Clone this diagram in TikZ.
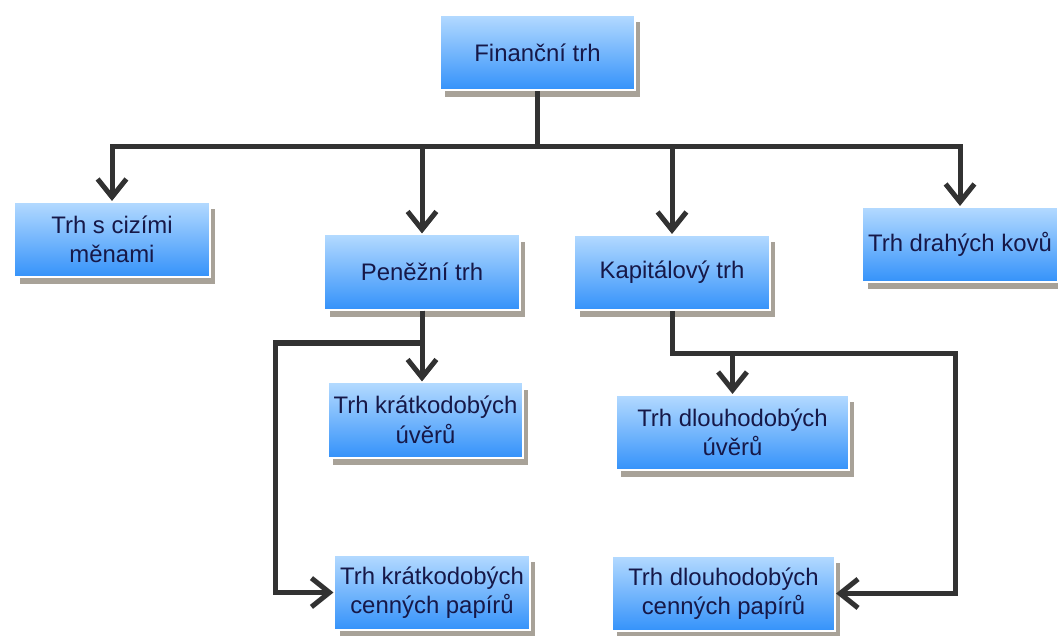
\documentclass[tikz,border=0pt]{standalone}
\usepackage{fontspec}
\setmainfont{Liberation Sans}
\usepackage{tikz}
\usetikzlibrary{arrows.meta, shadows}
\definecolor{boxtop}{RGB}{180,218,255}
\definecolor{boxbottom}{RGB}{52,146,250}
\definecolor{boxtext}{RGB}{22,24,72}
\definecolor{boxshadow}{RGB}{168,162,152}
\definecolor{linegray}{RGB}{50,50,50}
\tikzstyle{box} = [rectangle, minimum width=4.875cm, minimum height=1.875cm, align=center, draw=white, line width=0.05cm, top color=boxtop, bottom color=boxbottom, text=boxtext, font=\fontsize{17}{21}\selectfont, drop shadow={shadow xshift=0.13cm, shadow yshift=-0.18cm, fill=boxshadow, opacity=1}]
\tikzstyle{arrow} = [line width=0.125cm, draw=linegray, -{Straight Barb[length=0.45cm, width=0.72cm]}]

\begin{document}
\begin{tikzpicture}[x=0.025cm, y=-0.025cm]
        \useasboundingbox (0,0) rectangle (1058,636);
        \node (fin) [box] at (537.5,52.5) {Finanční trh};
        \node (ciz) [box] at (112,239.5) {Trh s cizími\\měnami};
        \node (pen) [box] at (422,272) {Peněžní trh};
        \node (kap) [box] at (672,272.5) {Kapitálový trh};
        \node (kov) [box] at (960,244.5) {Trh drahých kovů};
        \node (kuv) [box] at (425.5,420) {Trh krátkodobých\\úvěrů};
        \node (duv) [box, minimum width=5.825cm] at (732.5,432.5) {Trh dlouhodobých\\úvěrů};
        \node (kcp) [box] at (432,592.5) {Trh krátkodobých\\cenných papírů};
        \node (dcp) [box, minimum width=5.575cm] at (723.5,593.5) {Trh dlouhodobých\\cenných papírů};

        \coordinate (bus) at (537.5,147);
        \coordinate (pturn) at (275,343);
        \coordinate (kturn) at (955,353);

        \foreach \n in {ciz,pen,kap,kov}
            \draw [arrow] (fin.south) -- (bus) -| (\n.north);
        \draw [arrow] (pen.south) -- (pen.south |- kuv.north);
        \draw [arrow] (pen.south) |- (pturn) |- (kcp.west);
        \draw [arrow] (kap.south) |- (duv.north |- kturn) -- (duv.north);
        \draw [arrow] (kap.south) |- (kturn) |- (dcp.east);
    \end{tikzpicture}
\end{document}
